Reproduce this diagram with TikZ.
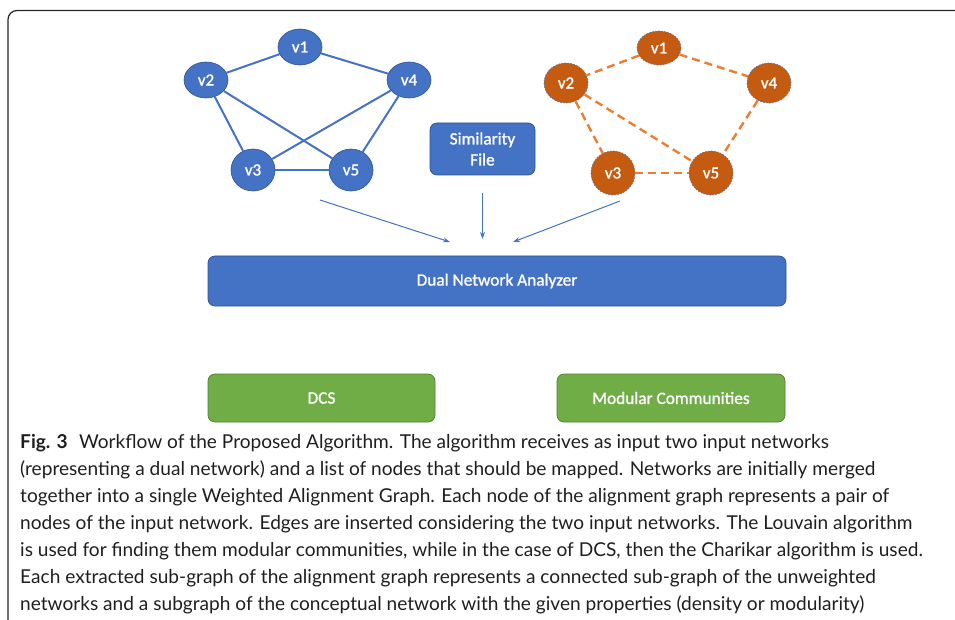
\documentclass[tikz,border=0pt]{standalone}
\usepackage{fontspec}
\setmainfont{Lato}
\newfontfamily\boxfont[FakeBold=1.2]{Carlito}
\usetikzlibrary{arrows.meta,shapes.geometric}
\definecolor{netblue}{HTML}{4472C4}
\definecolor{netblueline}{HTML}{2F528F}
\definecolor{netorange}{HTML}{C55A11}
\definecolor{edgeorange}{HTML}{ED7D31}
\definecolor{netgreen}{HTML}{70AD47}
\definecolor{netgreenline}{HTML}{507E32}
\tikzset{
  bluevertex/.style={ellipse, fill=netblue, draw=netblueline, line width=0.6pt,
    minimum width=44pt, minimum height=36pt, inner sep=0pt,
    text=white, font=\boxfont\fontsize{17}{17}\selectfont},
  orangevertex/.style={ellipse, fill=netorange, draw=netblueline!80,
    dash pattern=on 1.5pt off 1.5pt, line width=0.7pt,
    minimum width=44pt, minimum height=40pt, inner sep=0pt,
    text=white, font=\boxfont\fontsize{17}{17}\selectfont},
  blueedge/.style={draw=netblue, line width=2pt},
  orangeedge/.style={draw=edgeorange, line width=2.4pt, dash pattern=on 8pt off 5pt},
  bluebox/.style={rectangle, rounded corners=7pt, fill=netblue, draw=netblueline,
    line width=0.7pt, text=white, inner sep=0pt, align=center,
    font=\boxfont\fontsize{17.3}{21}\selectfont},
  greenbox/.style={rectangle, rounded corners=7pt, fill=netgreen, draw=netgreenline,
    line width=0.7pt, text=white, inner sep=0pt,
    font=\boxfont\fontsize{17.3}{21}\selectfont},
  feed/.style={draw=netblue, line width=1pt, -{Stealth[length=7pt,width=5pt]}},
  capline/.style={anchor=base west, inner sep=0pt, text=black!88,
    font=\fontsize{19.1}{27}\selectfont},
}
\begin{document}
\begin{tikzpicture}[x=1pt,y=-1pt]
\useasboundingbox (0,0) rectangle (955,620);

% figure frame, open on the right and at the bottom
\draw[line width=1.2pt, black!85, rounded corners=9pt] (955,10.5) -- (8,10.5) -- (8,620);

% first input network
\node[bluevertex] (a1) at (300,47) {v1};
\node[bluevertex] (a2) at (206,80) {v2};
\node[bluevertex] (a4) at (409,80) {v4};
\node[bluevertex, minimum height=42pt] (a3) at (253,170) {v3};
\node[bluevertex, minimum height=42pt] (a5) at (351,170) {v5};
\draw[blueedge] (a1) -- (a2);
\draw[blueedge] (a1) -- (a4);
\draw[blueedge] (a2) -- (a3);
\draw[blueedge] (a2) -- (a5);
\draw[blueedge] (a4) -- (a3);
\draw[blueedge] (a4) -- (a5);
\draw[blueedge] (a3) -- (a5);

% second input network
\node[orangevertex, minimum height=34pt] (b1) at (659,48) {v1};
\node[orangevertex] (b2) at (566,83) {v2};
\node[orangevertex] (b4) at (769,83) {v4};
\node[orangevertex, minimum height=44pt] (b3) at (613,173) {v3};
\node[orangevertex, minimum height=44pt] (b5) at (711,173) {v5};
\draw[orangeedge] (b1) -- (b2);
\draw[orangeedge] (b1) -- (b4);
\draw[orangeedge] (b2) -- (b3);
\draw[orangeedge] (b2) -- (b5);
\draw[orangeedge] (b4) -- (b5);
\draw[orangeedge] (b3) -- (b5);

% similarity file and analyzer
\node[bluebox, minimum width=105pt, minimum height=52pt] (sim) at (482.5,149) {Similarity\\File};
\node[bluebox, minimum width=578pt, minimum height=50pt] (dna) at (497,281) {Dual Network Analyzer};

% inputs flowing into the analyzer
\coordinate (lsrc) at (320,200);
\coordinate (ldst) at (450,242);
\coordinate (msrc) at (482.5,193);
\coordinate (mdst) at (482.5,239);
\coordinate (rsrc) at (620,201);
\coordinate (rdst) at (513,242);
\draw[feed] (lsrc) -- (ldst);
\draw[feed] (msrc) -- (mdst);
\draw[feed] (rsrc) -- (rdst);

% results
\node[greenbox, minimum width=227pt, minimum height=48pt] (dcs) at (321.5,398) {DCS};
\node[greenbox, minimum width=228pt, minimum height=48pt] (mod) at (671,398) {Modular Communities};

% caption
\node[capline] (c1) at (20,448) {\textbf{Fig. 3}\hspace{0.6em}Workflow of the Proposed Algorithm. The algorithm receives as input two input networks};
\node[capline] (c2) at (20,475) {(representing a dual network) and a list of nodes that should be mapped. Networks are initially merged};
\node[capline] (c3) at (20,502) {together into a single Weighted Alignment Graph. Each node of the alignment graph represents a pair of};
\node[capline] (c4) at (20,529) {nodes of the input network. Edges are inserted considering the two input networks. The Louvain algorithm};
\node[capline] (c5) at (20,556) {is used for finding them modular communities, while in the case of DCS, then the Charikar algorithm is used.};
\node[capline] (c6) at (20,583) {Each extracted sub-graph of the alignment graph represents a connected sub-graph of the unweighted};
\node[capline] (c7) at (20,610) {networks and a subgraph of the conceptual network with the given properties (density or modularity)};
\end{tikzpicture}
\end{document}
